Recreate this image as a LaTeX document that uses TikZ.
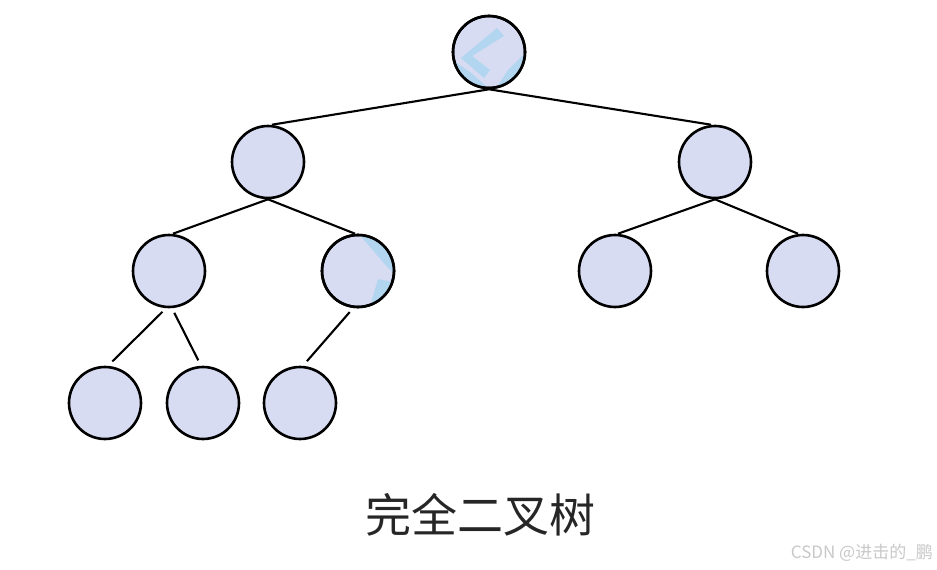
\documentclass[tikz,border=0pt]{standalone}
\usepackage{fontspec}
\newfontfamily\cjk{Noto Sans CJK SC}
\begin{document}
\begin{tikzpicture}[x=1pt,y=-1pt,
  tnode/.style={circle,draw=black,line width=2.6pt,fill=nodefill,minimum size=72pt,inner sep=0pt},
  edge/.style={draw=black,line width=2.1pt},
  glare/.style={fill=glareblue,opacity=0.8}]
\definecolor{nodefill}{HTML}{D7DCF3}
\definecolor{glareblue}{HTML}{A9D5EF}
\definecolor{wmgray}{HTML}{C8C8C8}
\useasboundingbox (0,0) rectangle (937,570);
\node[tnode] (root) at (489,52) {};
\node[tnode] (L) at (268,162) {};
\node[tnode] (R) at (715,162) {};
\node[tnode] (LL) at (169,271) {};
\node[tnode] (LR) at (358,271) {};
\node[tnode] (RL) at (615,271) {};
\node[tnode] (RR) at (803,271) {};
\node[tnode] (LLL) at (105,403) {};
\node[tnode] (LLR) at (203,403) {};
\node[tnode] (LRL) at (300,403) {};
% glare on root
\begin{scope}
  \clip (489,52) circle (35);
  \fill[glare] (497,28) -- (504,36) -- (472,56) -- (490,70) -- (484,78) -- (461,58) -- cycle;
  \fill[glare] (452,60) -- (470,72) -- (486,86) -- (452,90) -- cycle;
  \fill[glare] (508,70) -- (530,48) -- (530,90) -- (495,90) -- cycle;
\end{scope}
\draw[black,line width=2.6pt] (489,52) circle (36);
% glare on LR
\begin{scope}
  \clip (358,271) circle (35);
  \fill[glare] (358,233) -- (398,233) -- (398,276) -- (388,268) -- cycle;
  \fill[glare] (378,279) -- (398,283) -- (398,310) -- (369,310) -- cycle;
\end{scope}
\draw[black,line width=2.6pt] (358,271) circle (36);
% edges
\draw[edge] (root.south) -- ([xshift=4pt]L.north);
\draw[edge] (root.south) -- ([xshift=-4pt]R.north);
\draw[edge] (L.south) -- ([xshift=4pt]LL.north);
\draw[edge] (L.south) -- ([xshift=-3pt]LR.north);
\draw[edge] (R.south) -- ([xshift=3pt]RL.north);
\draw[edge] (R.south) -- ([xshift=-5pt]RR.north);
\draw[edge,shorten <=5pt,shorten >=6pt] ([xshift=-3pt]LL.south) -- ([xshift=3pt]LLL.north);
\draw[edge,shorten <=5pt,shorten >=6pt] ([xshift=3pt]LL.south) -- ([xshift=-2pt]LLR.north);
\draw[edge,shorten <=5pt,shorten >=6pt] ([xshift=-5pt]LR.south) -- ([xshift=3pt]LRL.north);
% labels
\node[font=\cjk\fontsize{46}{52}\selectfont,text=black!85] (title) at (480,515) {完全二叉树};
\node[font=\cjk\fontsize{17}{20}\selectfont,text=wmgray,anchor=east,inner sep=0pt] (wm) at (933,553) {CSDN @进击的\_鹏};
\end{tikzpicture}
\end{document}
